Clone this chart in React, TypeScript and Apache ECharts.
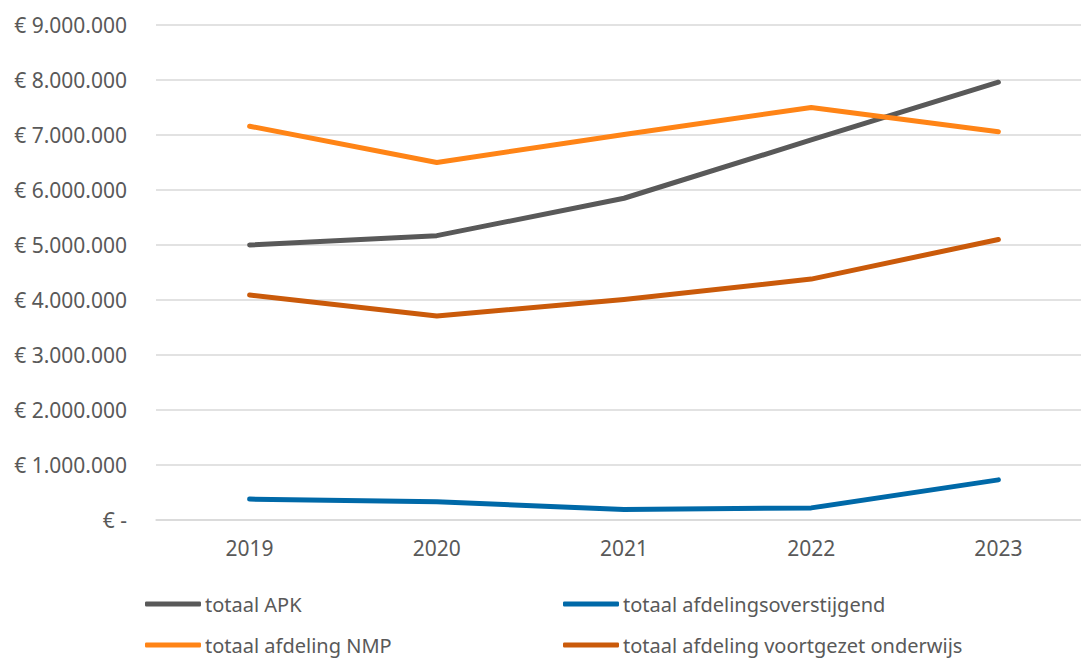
import React, { useEffect, useRef } from "react";
import * as echarts from "echarts";

const years = ["2019", "2020", "2021", "2022", "2023"];
const apk = [5000000, 5170000, 5850000, 6910000, 7960000];
const overstijgend = [380000, 330000, 190000, 220000, 730000];
const nmp = [7160000, 6500000, 7010000, 7500000, 7060000];
const vo = [4090000, 3710000, 4010000, 4380000, 5100000];

const names = [
  "totaal APK",
  "totaal afdelingsoverstijgend",
  "totaal afdeling NMP",
  "totaal afdeling voortgezet onderwijs",
];
const colors = ["#595959", "#0069A8", "#FF8416", "#CA5A0A"];
const FONT = "'Noto Sans', sans-serif";
const TEXT = "#595959";

function fmt(v: number): string {
  if (v === 0) return "€ -";
  return "€ " + String(Math.round(v)).replace(/\B(?=(\d{3})+(?!\d))/g, ".");
}

export default function App() {
  const ref = useRef<HTMLDivElement>(null);
  useEffect(() => {
    if (!ref.current) return;
    const chart = echarts.init(ref.current, null, { renderer: "svg" });
    const datas = [apk, overstijgend, nmp, vo];
    const legendPos = [
      [145, 593],
      [563, 593],
      [145, 634],
      [563, 634],
    ];
    chart.setOption({
      animation: false,
      backgroundColor: "#ffffff",
      textStyle: { fontFamily: FONT },
      grid: { left: 156, top: 25, width: 936, height: 495, containLabel: false },
      xAxis: {
        type: "category",
        data: years,
        boundaryGap: true,
        axisLine: { show: true, lineStyle: { color: "#D9D9D9", width: 1.5 } },
        axisTick: { show: false },
        axisLabel: { color: TEXT, fontSize: 21, fontFamily: FONT, margin: 17 },
      },
      yAxis: {
        type: "value",
        min: 0,
        max: 9000000,
        interval: 1000000,
        axisLine: { show: false },
        axisTick: { show: false },
        splitLine: { lineStyle: { color: "#D9D9D9", width: 1.5 } },
        axisLabel: {
          color: TEXT,
          fontSize: 21,
          fontFamily: FONT,
          margin: 29,
          formatter: (v: number) => fmt(v),
        },
      },
      legend: names.map((n, i) => ({
        data: [n],
        orient: "horizontal",
        left: legendPos[i][0],
        top: legendPos[i][1],
        padding: 0,
        itemWidth: 56,
        itemHeight: 5,
        icon: "roundRect",
        selectedMode: false,
        textStyle: { color: TEXT, fontSize: 20, fontFamily: FONT, lineHeight: 22, padding: [0, 0, 0, -1] },
      })),
      series: names.map((n, i) => ({
        name: n,
        type: "line",
        data: datas[i],
        symbol: "none",
        color: colors[i],
        lineStyle: { width: 5, color: colors[i], cap: "round", join: "round" },
      })),
    });
    return () => chart.dispose();
  }, []);
  return (
    <div
      style={{
        position: "absolute",
        left: 0,
        top: 0,
        width: 1081,
        height: 660,
        overflow: "hidden",
        background: "#ffffff",
      }}
    >
      <div ref={ref} style={{ width: 1100, height: 660 }} />
    </div>
  );
}
